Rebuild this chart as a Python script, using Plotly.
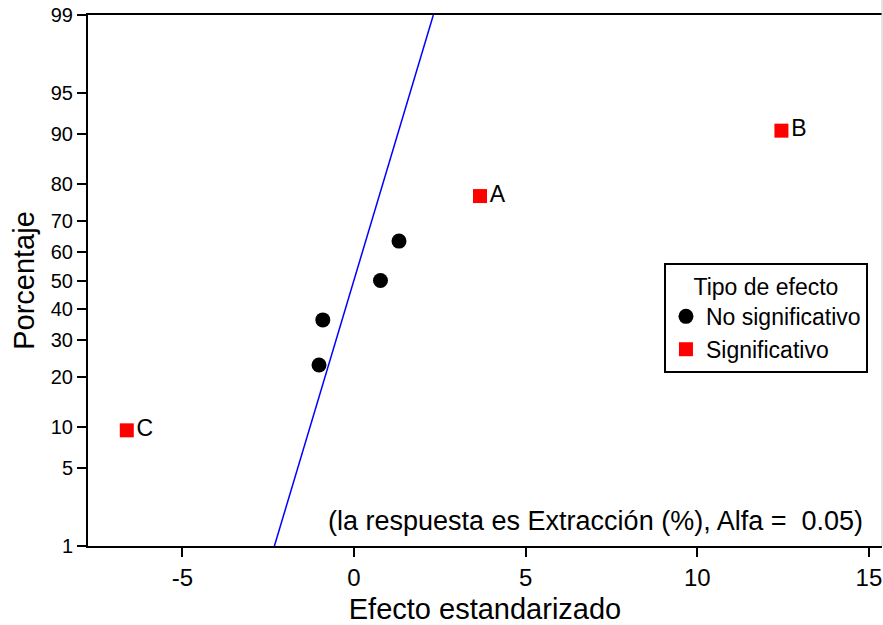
from statistics import NormalDist
import plotly.graph_objects as go

# ---- data ----
nonsig_effects = [-1.02, -0.91, 0.77, 1.31]
nonsig_pct = [22.97, 36.49, 50.0, 63.51]

sig_labels = ["C", "A", "B"]
sig_effects = [-6.62, 3.67, 12.45]
sig_pct = [9.46, 77.03, 90.54]

line_effects = [-2.32, 2.31]
line_pct = [1, 99]

pct_ticks = [1, 5, 10, 20, 30, 40, 50, 60, 70, 80, 90, 95, 99]
x_ticks = [-5, 0, 5, 10, 15]

nd = NormalDist()


def z(p):
    return nd.inv_cdf(p / 100.0)


SANS = "Liberation Sans, Arial"

fig = go.Figure()

fig.add_trace(go.Scatter(
    x=line_effects, y=[z(p) for p in line_pct], mode="lines",
    line=dict(color="#0000ff", width=1.5), showlegend=False, hoverinfo="skip"))

fig.add_trace(go.Scatter(
    x=nonsig_effects, y=[z(p) for p in nonsig_pct], mode="markers",
    name="No significativo",
    marker=dict(symbol="circle", size=15, color="black")))

fig.add_trace(go.Scatter(
    x=sig_effects, y=[z(p) for p in sig_pct], mode="markers+text",
    name="Significativo", text=sig_labels, textposition="middle right",
    textfont=dict(family=SANS, size=23, color="black"),
    marker=dict(symbol="square", size=14, color="#ff0000")))

fig.update_layout(
    width=883, height=625,
    margin=dict(l=88, r=1, t=15, b=79),
    paper_bgcolor="white", plot_bgcolor="white",
    font=dict(family=SANS, color="black"),
    xaxis=dict(
        range=[-7.75, 15.38], tickvals=x_ticks, ticktext=[str(v) for v in x_ticks],
        showgrid=False, zeroline=False, showline=True, linecolor="black",
        linewidth=2, mirror=True, ticks="outside", ticklen=9, tickwidth=2,
        tickcolor="black", tickfont=dict(family=SANS, size=24),
        title=dict(text="Efecto estandarizado", font=dict(family=SANS, size=29),
                   standoff=10)),
    yaxis=dict(
        range=[z(1), z(99)], tickvals=[z(p) for p in pct_ticks],
        ticktext=[str(p) for p in pct_ticks],
        showgrid=False, zeroline=False, showline=True, linecolor="black",
        linewidth=2, ticks="outside", ticklen=9, tickwidth=2, tickcolor="black",
        tickfont=dict(family=SANS, size=20),
        title=dict(text="Porcentaje", font=dict(family=SANS, size=29), standoff=8)),
    legend=dict(
        x=0.7254, y=0.533, xanchor="left", yanchor="top",
        bgcolor="white", bordercolor="black", borderwidth=2,
        font=dict(family=SANS, size=23),
        title=dict(text="Tipo de efecto", side="top center",
                   font=dict(family=SANS, size=23)),
        itemwidth=30),
    annotations=[dict(
        text="(la respuesta es Extracción (%), Alfa =  0.05)",
        xref="paper", yref="paper", x=0.9786, y=0.047,
        xanchor="right", yanchor="middle", showarrow=False,
        font=dict(family=SANS, size=27))],
    shapes=[dict(type="line", xref="paper", yref="paper",
                 x0=1, x1=1, y0=0, y1=1 + 15 / 531,
                 line=dict(color="#c8c8c8", width=1))],
)

fig.write_html("out.html")
